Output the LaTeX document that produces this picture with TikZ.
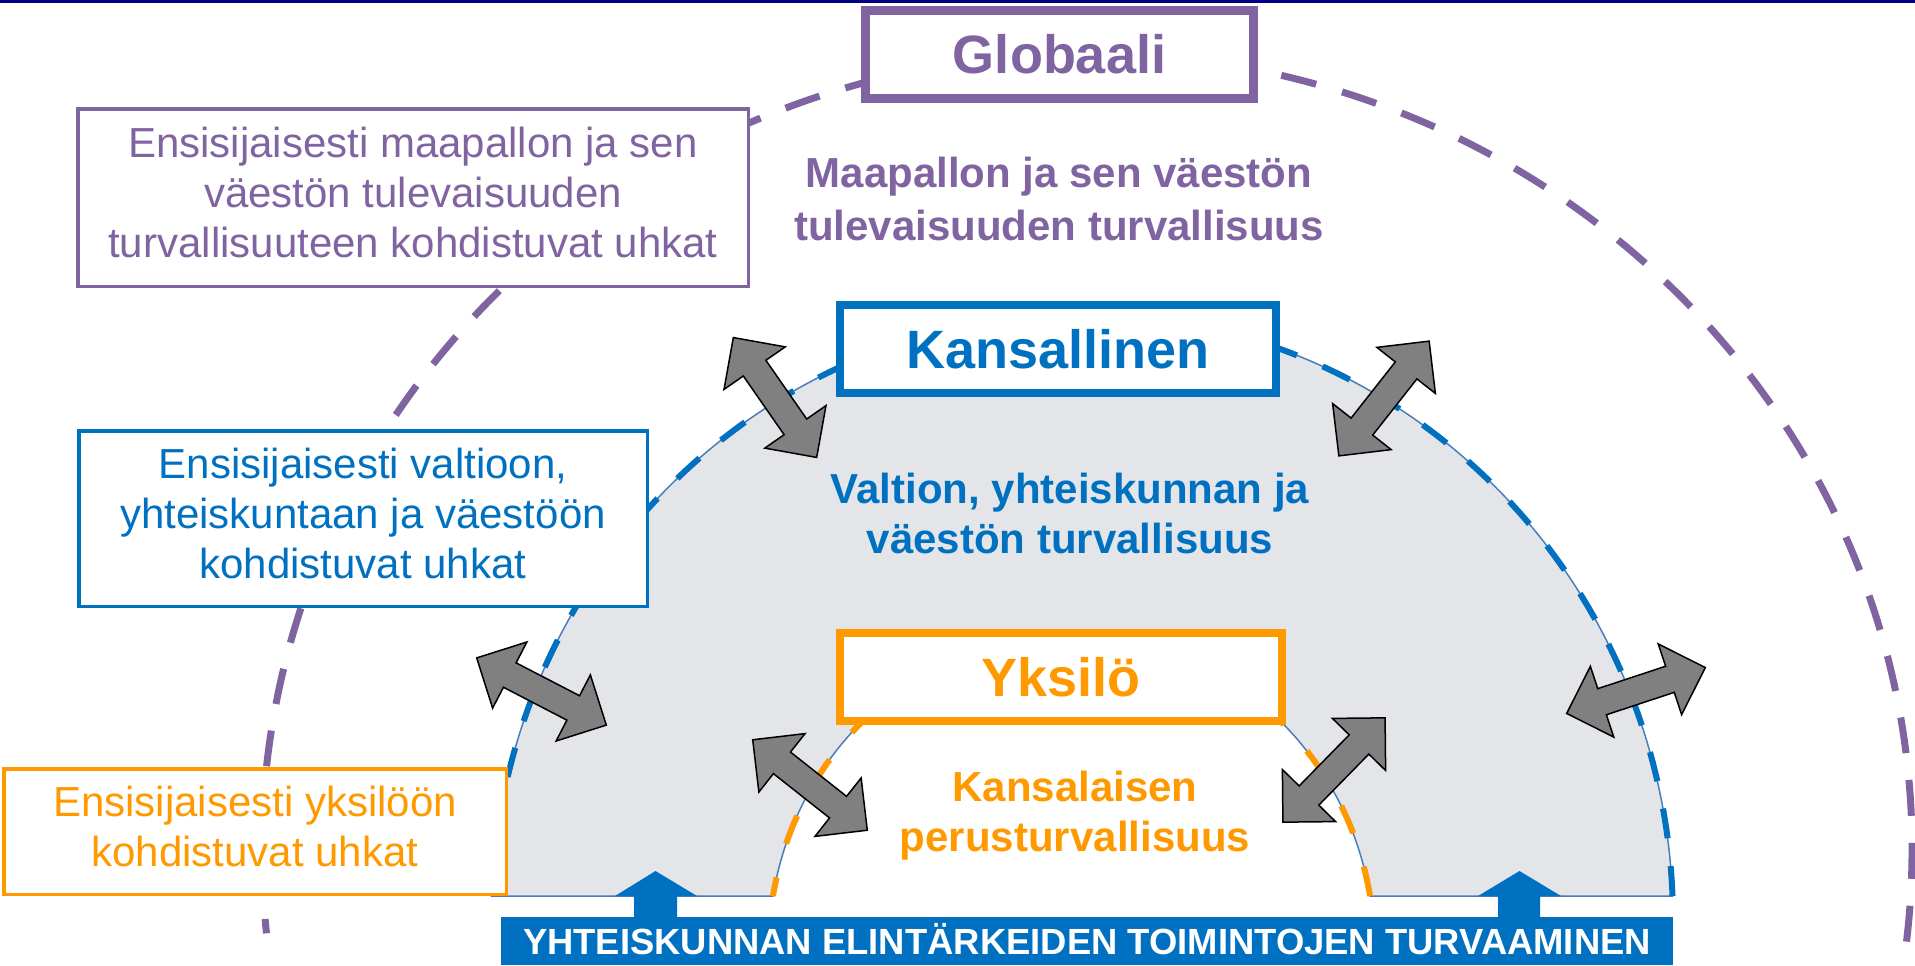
\documentclass[tikz,border=0pt]{standalone}
\usepackage{fontspec}
\setmainfont{Liberation Sans}
\usetikzlibrary{shapes.arrows}
\definecolor{pur}{HTML}{8064A2}
\definecolor{blu}{HTML}{0070C0}
\definecolor{org}{HTML}{FF9900}
\definecolor{domegray}{HTML}{E3E5E9}
\definecolor{thinblue}{HTML}{4A7EBB}
\definecolor{topnavy}{HTML}{000080}
\definecolor{arrgray}{HTML}{808080}
\begin{document}
\begin{tikzpicture}[x=1pt,y=1pt,
  bigbox/.style={fill=white, line width=8.5pt, minimum height=88pt, inner sep=0pt,
    text height=39pt, text depth=0pt, font=\fontsize{54pt}{60pt}\selectfont\bfseries},
  notebox/.style={fill=white, line width=3.5pt, inner sep=0pt, align=center,
    font=\fontsize{42pt}{50pt}\selectfont},
  subtitle/.style={inner sep=0pt, align=center, font=\fontsize{42pt}{50pt}\selectfont\bfseries},
  dblarr/.style={double arrow, draw=black, fill=arrgray, line width=1.5pt,
    minimum height=146pt, inner sep=0pt, inner ysep=13pt, double arrow head extend=23.5pt},
  uparr/.style={fill=blu}
]
\useasboundingbox (0,0) rectangle (1915,-966);
\fill[white] (0,0) rectangle (1915,-966);
\fill[topnavy] (0,0) rectangle (1915,-3);

% outer purple dashed ellipse (global level)
\coordinate (pc) at (1087,-850);
\draw[pur, line width=7pt, dash pattern=on 36pt off 27pt]
  ([shift={(-6.6:825pt and 797pt)}]pc) arc[start angle=-6.6, end angle=186, x radius=825pt, y radius=797pt];

% national dome with individual cut-out
\coordinate (oc) at (1082,-920);
\coordinate (ic) at (1071.5,-950);
\fill[domegray]
  ([shift={(2.27:591pt and 606pt)}]oc) arc[start angle=2.27, end angle=177.73, x radius=591pt, y radius=606pt]
  -- ([shift={(170.16:303pt and 316pt)}]ic) arc[start angle=170.16, end angle=9.84, x radius=303pt, y radius=316pt]
  -- cycle;
\draw[thinblue, line width=1.5pt]
  ([shift={(2.27:591pt and 606pt)}]oc) arc[start angle=2.27, end angle=177.73, x radius=591pt, y radius=606pt]
  -- ([shift={(170.16:303pt and 316pt)}]ic) arc[start angle=170.16, end angle=9.84, x radius=303pt, y radius=316pt]
  -- cycle;
\draw[blu, line width=6pt, dash pattern=on 30pt off 28pt]
  ([shift={(2.27:591pt and 606pt)}]oc) arc[start angle=2.27, end angle=177.73, x radius=591pt, y radius=606pt];
\draw[org, line width=6pt, dash pattern=on 30pt off 35pt]
  ([shift={(9.84:303pt and 316pt)}]ic) arc[start angle=9.84, end angle=170.16, x radius=303pt, y radius=316pt];

% bottom bar and its up arrows
\fill[uparr] (634,-918) -- (634,-896) -- (615,-896) -- (655.5,-871) -- (697,-896) -- (677,-896) -- (677,-918) -- cycle;
\fill[uparr] (1498,-918) -- (1498,-896) -- (1478,-896) -- (1519.5,-871) -- (1561,-896) -- (1540,-896) -- (1540,-918) -- cycle;
\node[fill=blu, minimum width=1172pt, minimum height=48pt, inner sep=0pt, text=white,
  text height=26pt, text depth=0pt, font=\fontsize{36.4pt}{40pt}\selectfont\bfseries]
  (bar) at (1087,-941) {YHTEISKUNNAN ELINTÄRKEIDEN TOIMINTOJEN TURVAAMINEN};

% level boxes
\node[bigbox, draw=pur, text=pur, minimum width=388pt] (glob) at (1059.5,-54.5) {Globaali};
\node[bigbox, draw=blu, text=blu, minimum width=436pt] (kans) at (1058,-349) {Kansallinen};
\node[bigbox, draw=org, text=org, minimum width=442pt] (yks) at (1061,-677) {Yksilö};

% threat boxes
\node[notebox, draw=pur, text=pur, minimum width=670.5pt, minimum height=177.5pt] (globthreat) at (413,-197.5)
  {\strut Ensisijaisesti maapallon ja sen\\\strut väestön tulevaisuuden\\\strut turvallisuuteen kohdistuvat uhkat};
\node[notebox, draw=blu, text=blu, minimum width=568.5pt, minimum height=175.5pt] (kansthreat) at (363,-518.5)
  {\strut Ensisijaisesti valtioon,\\\strut yhteiskuntaan ja väestöön\\\strut kohdistuvat uhkat};
\node[notebox, draw=org, text=org, minimum width=502.5pt, minimum height=125.5pt] (yksthreat) at (255,-831.5)
  {\strut Ensisijaisesti yksilöön\\\strut kohdistuvat uhkat};

% level descriptions
\node[subtitle, text=pur, font=\fontsize{42pt}{53pt}\selectfont\bfseries] (globtext) at (1059,-203)
  {\strut Maapallon ja sen väestön\\\strut tulevaisuuden turvallisuus};
\node[subtitle, text=blu] (kanstext) at (1070,-518)
  {\strut Valtion, yhteiskunnan ja\\\strut väestön turvallisuus};
\node[subtitle, text=org] (ykstext) at (1075,-816.5)
  {\strut Kansalaisen\\\strut perusturvallisuus};

% interaction arrows
\node[dblarr, rotate=-55.2] (a1) at (775,-397.5) {};
\node[dblarr, rotate=51.8] (a2) at (1384,-398.5) {};
\node[dblarr, rotate=-27.4] (a3) at (541.5,-691.5) {};
\node[dblarr, rotate=-38.3] (a4) at (810,-785) {};
\node[dblarr, rotate=45.6] (a5) at (1334,-770) {};
\node[dblarr, rotate=18.3] (a6) at (1636,-690.5) {};
\end{tikzpicture}
\end{document}
